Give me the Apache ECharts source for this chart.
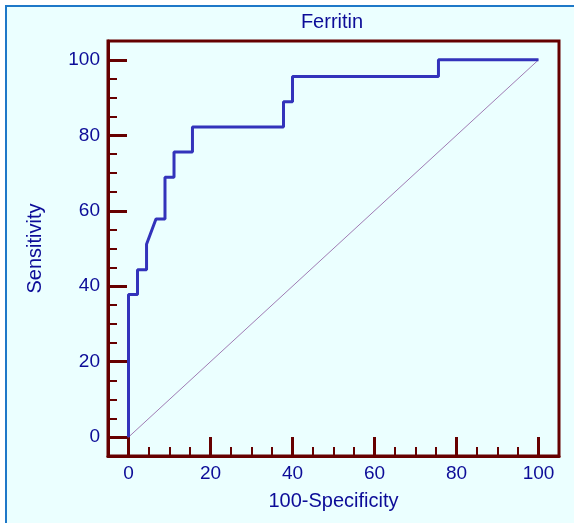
<!DOCTYPE html>
<html>
<head>
<meta charset="utf-8">
<script src="https://cdn.jsdelivr.net/npm/echarts@6/dist/echarts.min.js"></script>
<style>
html,body{margin:0;padding:0;background:#ffffff;}
#chart{width:574px;height:523px;}
</style>
</head>
<body>
<div id="chart"></div>
<script>
// ROC curve points (100-Specificity, Sensitivity)
var fpr = [0, 0, 2.2, 2.2, 4.4, 4.4, 6.7, 8.9, 8.9, 11.1, 11.1, 15.6, 15.6, 37.8, 37.8, 40.0, 40.0, 75.6, 75.6, 100];
var tpr = [0, 37.8, 37.8, 44.4, 44.4, 51.1, 57.8, 57.8, 68.9, 68.9, 75.6, 75.6, 82.2, 82.2, 88.9, 88.9, 95.6, 95.6, 100, 100];
// reference diagonal
var diagX = [0, 100];
var diagY = [0, 100];
// ticks
var majorTicks = [0, 20, 40, 60, 80, 100];
var minorTicks = [5, 10, 15, 25, 30, 35, 45, 50, 55, 65, 70, 75, 85, 90, 95];
var titleText = 'Ferritin';
var xName = '100-Specificity';
var yName = 'Sensitivity';

var frame = '#660000';
var txt = '#0c0c98';
var font = 'Liberation Sans, Arial, sans-serif';

function pairs(a, b) { return a.map(function (v, i) { return [v, b[i]]; }); }

function mkAxis(major, pos) {
  var base = {
    type: 'value', min: -5, max: 105, position: pos,
    splitLine: {show: false}
  };
  if (major) {
    base.axisLine = {show: true, onZero: false, lineStyle: {color: frame, width: 3}};
    base.axisTick = {show: true, inside: true, length: 19, customValues: majorTicks, lineStyle: {color: frame, width: 3}};
    base.axisLabel = {show: true, customValues: majorTicks, margin: 8, color: txt, fontSize: 19, fontFamily: font};
  } else {
    base.axisLine = {show: false, onZero: false};
    base.axisTick = {show: true, inside: true, length: 9, customValues: minorTicks, lineStyle: {color: frame, width: 2}};
    base.axisLabel = {show: false};
  }
  return base;
}

var chart = echarts.init(document.getElementById('chart'), null, {renderer: 'canvas'});
var xa0 = mkAxis(true, 'bottom');
xa0.name = xName; xa0.nameLocation = 'middle'; xa0.nameGap = 35;
xa0.nameTextStyle = {color: txt, fontSize: 20, fontFamily: font};
var ya0 = mkAxis(true, 'left');
ya0.name = yName; ya0.nameLocation = 'middle'; ya0.nameGap = 63;
ya0.nameTextStyle = {color: txt, fontSize: 20, fontFamily: font};

chart.setOption({
  animation: false,
  backgroundColor: '#ffffff',
  graphic: [
    {type: 'rect', z: -10, silent: true, shape: {x: 6, y: 6, width: 620, height: 560},
     style: {fill: '#ebffff', stroke: '#1e78c8', lineWidth: 2}},
    {type: 'text', x: 332, y: 22, silent: true,
     style: {text: titleText, align: 'center', verticalAlign: 'middle', fill: txt, font: '20px ' + font}}
  ],
  grid: {left: 108, top: 41, width: 451, height: 415, show: true, borderColor: frame, borderWidth: 3, backgroundColor: 'transparent'},
  xAxis: [xa0, mkAxis(false, 'bottom')],
  yAxis: [ya0, mkAxis(false, 'left')],
  series: [
    {type: 'line', data: pairs(diagX, diagY), showSymbol: false, symbol: 'none',
     lineStyle: {color: '#a07cb4', width: 1}, z: 2, silent: true},
    {type: 'line', data: pairs(fpr, tpr), showSymbol: false, symbol: 'none',
     lineStyle: {color: '#3333bb', width: 3}, z: 3, silent: true}
  ]
});
</script>
</body>
</html>
